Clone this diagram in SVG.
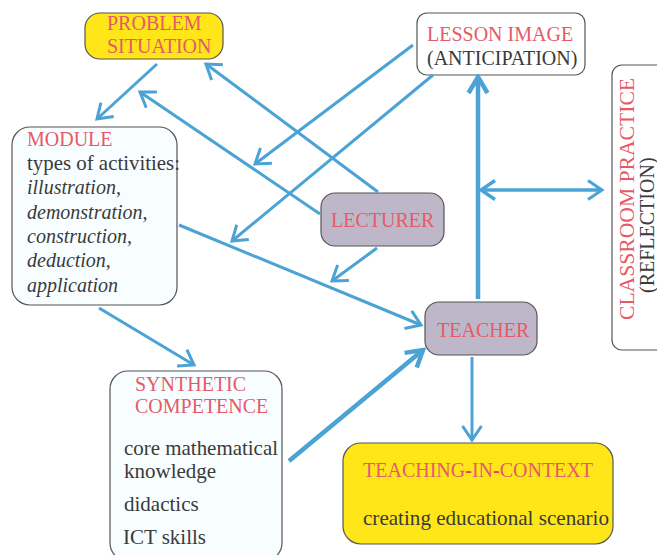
<svg xmlns="http://www.w3.org/2000/svg" width="657" height="555" viewBox="0 0 657 555">
<style>
.box{stroke:#555;stroke-width:1.2}
.yel{fill:#FFE619}
.lav{fill:#BEB7CA}
.wht{fill:#FFFFFF}
.cyan{fill:#F8FEFF}
text{font-family:"Liberation Serif","Times New Roman","DejaVu Serif",serif;font-size:20px}
.r{fill:#E65A68}
.d{fill:#3A3A3A}
.lg{font-size:21px}
.it{font-style:italic}
.c{fill:none;stroke:#4AA3D4;stroke-width:3}
.t{stroke-width:4.5}
</style>
<defs>
<marker id="a" markerUnits="userSpaceOnUse" viewBox="0 0 20 24" markerWidth="20" markerHeight="24" refX="17" refY="12" orient="auto">
<path d="M3,2.5 L17,12 L3,21.5" fill="none" stroke="#4AA3D4" stroke-width="3"/>
</marker>
<marker id="b" markerUnits="userSpaceOnUse" viewBox="0 0 22 24" markerWidth="22" markerHeight="24" refX="19" refY="12" orient="auto">
<path d="M3,2.5 L19,12 L3,21.5" fill="none" stroke="#4AA3D4" stroke-width="4.5"/>
</marker>
<marker id="s" markerUnits="userSpaceOnUse" viewBox="0 0 20 24" markerWidth="20" markerHeight="24" refX="3" refY="12" orient="auto">
<path d="M17,2.5 L3,12 L17,21.5" fill="none" stroke="#4AA3D4" stroke-width="3.5"/>
</marker>
</defs>

<g id="problem-situation">
<rect class="box yel" x="85" y="13" width="138" height="46" rx="15"/>
<text class="r" x="107" y="30">PROBLEM</text>
<text class="r" x="107" y="53">SITUATION</text>
</g>

<g id="lesson-image">
<rect class="box wht" x="417" y="13" width="168" height="62" rx="10"/>
<text class="r" x="427" y="41">LESSON IMAGE</text>
<text class="d" x="427" y="65">(ANTICIPATION)</text>
</g>

<g id="module">
<rect class="box cyan" x="12" y="127" width="165" height="178" rx="18"/>
<text class="r" x="27" y="146">MODULE</text>
<text class="d lg" x="27" y="170" textLength="153" lengthAdjust="spacingAndGlyphs">types of activities:</text>
<text class="d it" x="27" y="194">illustration,</text>
<text class="d it" x="27" y="219">demonstration,</text>
<text class="d it" x="27" y="243">construction,</text>
<text class="d it" x="27" y="267">deduction,</text>
<text class="d it" x="27" y="292">application</text>
</g>

<g id="lecturer">
<rect class="box lav" x="321" y="193" width="123" height="53" rx="14"/>
<text class="r" x="331" y="227">LECTURER</text>
</g>

<g id="teacher">
<rect class="box lav" x="425" y="302" width="112" height="53" rx="14"/>
<text class="r" x="437" y="337">TEACHER</text>
</g>

<g id="classroom-practice">
<rect class="box wht" x="612" y="65" width="60" height="285" rx="10"/>
<text class="r" transform="translate(634,320) rotate(-90)" textLength="242" lengthAdjust="spacingAndGlyphs">CLASSROOM PRACTICE</text>
<text class="d" transform="translate(654,293) rotate(-90)">(REFLECTION)</text>
</g>

<g id="synthetic-competence">
<rect class="box cyan" x="110" y="371" width="172" height="190" rx="18"/>
<text class="r" x="135" y="391">SYNTHETIC</text>
<text class="r" x="135" y="413">COMPETENCE</text>
<text class="d lg" x="124" y="455" textLength="154" lengthAdjust="spacingAndGlyphs">core mathematical</text>
<text class="d lg" x="124" y="478">knowledge</text>
<text class="d lg" x="124" y="511">didactics</text>
<text class="d lg" x="123" y="544">ICT skills</text>
</g>

<g id="teaching-in-context">
<rect class="box yel" x="343" y="443" width="270" height="101" rx="18"/>
<text class="r" x="363" y="477">TEACHING<tspan fill="#E0405A" font-weight="bold">-</tspan>IN<tspan fill="#E0405A" font-weight="bold">-</tspan>CONTEXT</text>
<text class="d lg" x="363" y="525" textLength="246" lengthAdjust="spacingAndGlyphs">creating educational scenario</text>
</g>

<g id="connectors">
<line class="c" x1="157" y1="64" x2="97" y2="119" marker-end="url(#a)"/>
<line class="c" x1="320" y1="214" x2="140" y2="92" marker-end="url(#a)"/>
<line class="c" x1="378" y1="192" x2="206" y2="64" marker-end="url(#a)"/>
<line class="c" x1="413" y1="45" x2="255" y2="164" marker-end="url(#a)"/>
<line class="c" x1="433" y1="75" x2="232" y2="241" marker-end="url(#a)"/>
<line class="c" x1="179" y1="225" x2="421" y2="325" marker-end="url(#a)"/>
<line class="c" x1="377" y1="248" x2="332" y2="281" marker-end="url(#a)"/>
<line class="c t" x1="478" y1="299" x2="478" y2="77" marker-end="url(#b)"/>
<line class="c" style="stroke-width:3.5" x1="481" y1="190" x2="602" y2="190" marker-start="url(#s)" marker-end="url(#a)"/>
<line class="c" x1="99" y1="308" x2="194" y2="365" marker-end="url(#a)"/>
<line class="c t" x1="289" y1="461" x2="423" y2="350" marker-end="url(#b)"/>
<line class="c" x1="472" y1="357" x2="472" y2="440" marker-end="url(#a)"/>
</g>
</svg>
